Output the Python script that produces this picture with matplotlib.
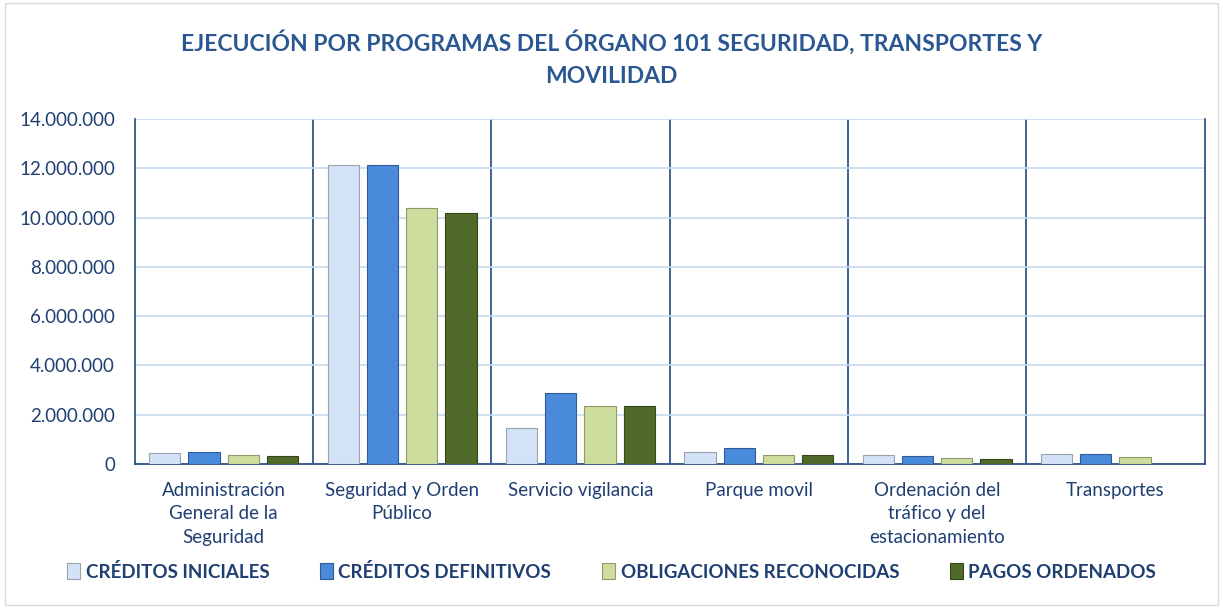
import numpy as np
import matplotlib.pyplot as plt
from matplotlib.ticker import FuncFormatter
from matplotlib.patches import Rectangle

# Data (euros)
categories = ['Administración\nGeneral de la\nSeguridad', 'Seguridad y Orden\nPúblico',
              'Servicio vigilancia', 'Parque movil',
              'Ordenación del\ntráfico y del\nestacionamiento', 'Transportes']
creditos_iniciales = [450000, 12120000, 1470000, 490000, 350000, 420000]
creditos_definitivos = [500000, 12120000, 2880000, 650000, 340000, 420000]
obligaciones_reconocidas = [370000, 10410000, 2340000, 370000, 230000, 270000]
pagos_ordenados = [330000, 10180000, 2350000, 350000, 180000, 0]

series = [
    ('CRÉDITOS INICIALES', creditos_iniciales, '#D3E2F7', '#9AA3AE'),
    ('CRÉDITOS DEFINITIVOS', creditos_definitivos, '#4A8ADB', '#2E5C9A'),
    ('OBLIGACIONES RECONOCIDAS', obligaciones_reconocidas, '#CCDD9E', '#8E9A6A'),
    ('PAGOS ORDENADOS', pagos_ordenados, '#506A2A', '#34461A'),
]

plt.rcParams['font.family'] = ['Lato', 'DejaVu Sans']
dark = '#1F3F73'

fig = plt.figure(figsize=(12.23, 6.08), dpi=100)
ax = fig.add_axes([0.110, 0.237, 0.875, 0.567])

x = np.arange(len(categories))
width = 0.175
step = 0.22
for i, (name, vals, fc, ec) in enumerate(series):
    ax.bar(x + (i - 1.5) * step, vals, width, color=fc, edgecolor=ec,
           linewidth=0.8, label=name, zorder=3)

ax.set_xlim(-0.5, len(categories) - 0.5)
ax.set_ylim(0, 14000000)
ax.set_yticks(np.arange(0, 14000001, 2000000))
ax.yaxis.set_major_formatter(FuncFormatter(lambda v, p: f'{int(v):,}'.replace(',', '.')))
ax.grid(axis='y', color='#C6D9F0', linewidth=1.2, zorder=0)
for b in np.arange(0.5, len(categories) - 0.5, 1):
    ax.axvline(b, color='#1F497D', linewidth=1.2, zorder=1)

ax.spines['top'].set_visible(False)
for s in ['left', 'right', 'bottom']:
    ax.spines[s].set_color('#1F497D')
    ax.spines[s].set_linewidth(1.2)

ax.set_xticks(x)
ax.set_xticklabels(categories, fontsize=13.5, color=dark, linespacing=1.45)
ax.tick_params(axis='x', length=0, pad=13)
ax.tick_params(axis='y', length=0, labelsize=13.5, colors=dark, pad=14)

fig.suptitle('EJECUCIÓN POR PROGRAMAS DEL ÓRGANO 101 SEGURIDAD, TRANSPORTES Y\nMOVILIDAD',
             x=0.5, y=0.95, fontsize=16.5, fontweight='bold', color='#2A5792',
             linespacing=1.65)

leg = fig.legend(loc='center', bbox_to_anchor=(0.5, 0.06), ncol=4, frameon=False,
                 prop={'weight': 'bold', 'size': 13.5}, handlelength=0.7,
                 handleheight=0.9, handletextpad=0.3, columnspacing=2.7)
for t in leg.get_texts():
    t.set_color(dark)

fig.patches.append(Rectangle((0.004, 0.005), 0.992, 0.99, transform=fig.transFigure,
                             fill=False, edgecolor='#D9D9D9', linewidth=1))

fig.savefig('out.png', dpi=100)
